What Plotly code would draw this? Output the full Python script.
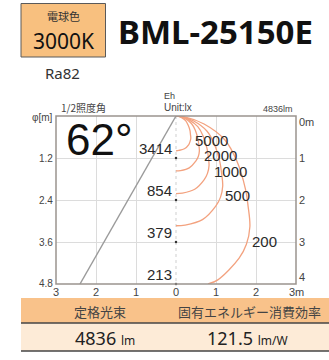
import plotly.graph_objects as go

# ---- data -------------------------------------------------------------
model_name = "BML-25150E"
color_name = "電球色"
color_temp = "3000K"
cri_text = "Ra82"
beam_angle = 62            # 1/2 illuminance angle [deg]
lumen = 4836               # rated flux [lm]
efficacy = 121.5           # [lm/W]

# illuminance directly below the fixture
center_depth = [1, 2, 3, 4]          # [m]
center_lux = [3414, 854, 379, 213]   # [lx]

# edge of the 1/2 illuminance cone (offset, depth) [m]
beam_r = [0, -2.40]
beam_d = [0, 4.0]

# isolux contours: horizontal offset r [m] and depth d [m]
lux_levels = [5000, 2000, 1000, 500, 200]
r_5000 = [0, 0.04, 0.14, 0.24, 0.30, 0.35, 0.36, 0.37, 0.35, 0.32, 0.21, 0.07, 0]
d_5000 = [0, 0.004, 0.04, 0.11, 0.21, 0.35, 0.43, 0.53, 0.61, 0.68, 0.78, 0.82, 0.83]
r_2000 = [0, 0.067, 0.222, 0.386, 0.480, 0.549, 0.570, 0.584, 0.557, 0.499, 0.331, 0.114, 0]
d_2000 = [0, 0.006, 0.060, 0.179, 0.336, 0.549, 0.678, 0.834, 0.966, 1.070, 1.234, 1.299, 1.307]
r_1000 = [0, 0.094, 0.314, 0.545, 0.678, 0.776, 0.806, 0.826, 0.787, 0.706, 0.468, 0.161, 0]
d_1000 = [0, 0.008, 0.085, 0.253, 0.475, 0.776, 0.959, 1.179, 1.366, 1.514, 1.745, 1.837, 1.848]
r_500 = [0, 0.133, 0.444, 0.771, 0.959, 1.097, 1.139, 1.168, 1.113, 0.998, 0.661, 0.227, 0]
d_500 = [0, 0.012, 0.120, 0.358, 0.672, 1.097, 1.356, 1.667, 1.931, 2.140, 2.467, 2.597, 2.613]
r_200 = [0, 0.211, 0.702, 1.219, 1.516, 1.735, 1.802, 1.847, 1.760, 1.578, 1.045, 0.80]
d_200 = [0, 0.019, 0.190, 0.566, 1.062, 1.735, 2.144, 2.636, 3.054, 3.384, 3.901, 4.0]
contour_r = [r_5000, r_2000, r_1000, r_500, r_200]
contour_d = [d_5000, d_2000, d_1000, d_500, d_200]

# axis tick labels
x_ticks = [-3, -2, -1, 0, 1, 2, 3]
x_tick_text = ["3", "2", "1", "0", "1", "2", "3m"]
depth_ticks = [0, 1, 2, 3, 4]
depth_tick_text = ["0m", "1", "2", "3", "4"]
diam_tick_text = ["1.2", "2.4", "3.6", "4.8"]

# ---- layout constants ---------------------------------------------------
FIG_W, FIG_H = 329, 360
L, R, T, B = 56, 33, 116, 76
PW, PH = FIG_W - L - R, FIG_H - T - B

# label anchors (offset, depth) beside each isolux curve
contour_label_pos = [(0.42, 0.59), (0.64, 0.94), (0.89, 1.32), (1.18, 1.89), (1.84, 2.98)]

NUM_FONT = "Liberation Sans"
JP_FONT = "Noto Sans CJK JP"
CURVE_COLOR = "#f3a27f"
TXT = "#2a2a2a"
GRAY_TXT = "#444444"


def px(x):
    return (x - L) / PW


def py(y):
    return (FIG_H - B - y) / PH


fig = go.Figure()

# isolux curves
for lv, rr, dd in zip(lux_levels, contour_r, contour_d):
    fig.add_trace(go.Scatter(
        x=rr, y=dd, mode="lines", name=f"{lv} lx",
        line=dict(color=CURVE_COLOR, width=1.3, shape="spline", smoothing=1.0),
        hoverinfo="skip", showlegend=False))

# beam edge
fig.add_trace(go.Scatter(
    x=beam_r, y=beam_d, mode="lines",
    line=dict(color="#9a9a9a", width=1.4),
    hoverinfo="skip", showlegend=False))

# center-axis markers
fig.add_trace(go.Scatter(
    x=[0] * len(center_depth), y=center_depth, mode="markers",
    marker=dict(color="#333333", size=2.5),
    hoverinfo="skip", showlegend=False, cliponaxis=False))

annotations = []

# center illuminance values
for d, lx in zip(center_depth, center_lux):
    annotations.append(dict(
        x=0, y=d, xref="x", yref="y", text=str(lx), showarrow=False,
        xanchor="right", yanchor="bottom", xshift=-2, yshift=-1,
        font=dict(family=NUM_FONT, size=15, color=TXT)))

# contour labels
for lv, (cx, cy) in zip(lux_levels, contour_label_pos):
    annotations.append(dict(
        x=cx, y=cy, xref="x", yref="y", text=str(lv), showarrow=False,
        xanchor="left", yanchor="middle",
        font=dict(family=NUM_FONT, size=15, color=TXT)))

# bottom axis tick labels
for xv, tx in zip(x_ticks, x_tick_text):
    annotations.append(dict(
        x=xv, y=0, xref="x", yref="paper", text=tx, showarrow=False,
        xanchor="center", yanchor="top", yshift=0,
        font=dict(family=NUM_FONT, size=11, color=GRAY_TXT)))

# right axis (depth) tick labels
for dv, tx in zip(depth_ticks, depth_tick_text):
    shift = -6 if dv == 0 else (7 if dv == depth_ticks[-1] else 0)
    annotations.append(dict(
        x=1, y=dv, xref="paper", yref="y", text=tx, showarrow=False,
        xanchor="left", yanchor="middle", xshift=1, yshift=shift,
        font=dict(family=NUM_FONT, size=11, color=GRAY_TXT)))

# left axis (beam diameter) tick labels
for dv, tx in zip(depth_ticks[1:], diam_tick_text):
    annotations.append(dict(
        x=0, y=dv, xref="paper", yref="y", text=tx, showarrow=False,
        xanchor="right", yanchor="middle", xshift=-1, yshift=1 if dv == 4 else 0,
        font=dict(family=NUM_FONT, size=10, color=GRAY_TXT)))

annotations.append(dict(
    x=px(55), y=py(117), xref="paper", yref="paper", text="φ[m]", showarrow=False,
    xanchor="right", yanchor="middle",
    font=dict(family=NUM_FONT, size=10, color=GRAY_TXT)))

# in-plot headers
annotations += [
    dict(x=px(59), y=py(107), xref="paper", yref="paper", text="1/2照度角",
         showarrow=False, xanchor="left", yanchor="middle",
         font=dict(family=JP_FONT, size=10, color=GRAY_TXT)),
    dict(x=px(64), y=py(139), xref="paper", yref="paper", text=f"{beam_angle}°",
         showarrow=False, xanchor="left", yanchor="middle",
         font=dict(family=NUM_FONT, size=44, color="#111111")),
    dict(x=px(162), y=py(96), xref="paper", yref="paper", text="Eh",
         showarrow=False, xanchor="left", yanchor="middle",
         font=dict(family=NUM_FONT, size=9, color=GRAY_TXT)),
    dict(x=px(162), y=py(108), xref="paper", yref="paper", text="Unit:lx",
         showarrow=False, xanchor="left", yanchor="middle",
         font=dict(family=NUM_FONT, size=10, color=GRAY_TXT)),
    dict(x=px(295), y=py(109), xref="paper", yref="paper", text=f"{lumen}lm",
         showarrow=False, xanchor="right", yanchor="middle",
         font=dict(family=NUM_FONT, size=9, color=GRAY_TXT)),
]

# title block
annotations += [
    dict(x=px(63), y=py(16), xref="paper", yref="paper", text=color_name,
         showarrow=False, xanchor="center", yanchor="middle",
         font=dict(family=JP_FONT, size=11, color="#333333")),
    dict(x=px(63), y=py(41), xref="paper", yref="paper", text=color_temp,
         showarrow=False, xanchor="center", yanchor="middle",
         font=dict(family="Noto Sans", size=21, color="#111111")),
    dict(x=px(62), y=py(73), xref="paper", yref="paper", text=cri_text,
         showarrow=False, xanchor="center", yanchor="middle",
         font=dict(family="Noto Sans", size=15, color="#333333")),
    dict(x=px(116), y=py(31), xref="paper", yref="paper", text=f"<b>{model_name}</b>",
         showarrow=False, xanchor="left", yanchor="middle",
         font=dict(family="Noto Sans", size=33, color="#111111")),
]

# spec table
annotations += [
    dict(x=px(100), y=py(311), xref="paper", yref="paper", text="定格光束",
         showarrow=False, xanchor="center", yanchor="middle",
         font=dict(family=JP_FONT, size=13, color="#444444")),
    dict(x=px(249), y=py(311), xref="paper", yref="paper", text="固有エネルギー消費効率",
         showarrow=False, xanchor="center", yanchor="middle",
         font=dict(family=JP_FONT, size=13, color="#444444")),
    dict(x=px(105), y=py(338), xref="paper", yref="paper",
         text=f"{lumen} <span style='font-size:12px'>lm</span>",
         showarrow=False, xanchor="center", yanchor="middle",
         font=dict(family="Noto Sans", size=18, color="#222222")),
    dict(x=px(247), y=py(338), xref="paper", yref="paper",
         text=f"{efficacy} <span style='font-size:12px'>lm/W</span>",
         showarrow=False, xanchor="center", yanchor="middle",
         font=dict(family="Noto Sans", size=18, color="#222222")),
]

shapes = [
    # dotted center axis
    dict(type="line", xref="x", yref="y", x0=0, x1=0, y0=0, y1=4,
         line=dict(color="#cfcfcf", width=1, dash="dot"), layer="below"),
    # plot frame
    dict(type="rect", xref="paper", yref="paper", x0=0, x1=1, y0=0, y1=1,
         line=dict(color="#9b948f", width=1.5)),
    # title color box
    dict(type="rect", xref="paper", yref="paper", x0=px(21), x1=px(105.5),
         y0=py(57), y1=py(3.5), fillcolor="#f8c07f",
         line=dict(color="#5a5a5a", width=1)),
    # table rows
    dict(type="rect", xref="paper", yref="paper", x0=px(21), x1=px(329),
         y0=py(323), y1=py(298), fillcolor="#f9c28a", line=dict(width=0)),
    dict(type="rect", xref="paper", yref="paper", x0=px(21), x1=px(329),
         y0=py(351), y1=py(323), fillcolor="#fdebd7", line=dict(width=0)),
    dict(type="line", xref="paper", yref="paper", x0=px(21), x1=px(329),
         y0=py(323), y1=py(323), line=dict(color="#444444", width=1.5)),
    dict(type="line", xref="paper", yref="paper", x0=px(21), x1=px(329),
         y0=py(351), y1=py(351), line=dict(color="#444444", width=1.5)),
]

fig.update_layout(
    width=FIG_W, height=FIG_H,
    margin=dict(l=L, r=R, t=T, b=B, pad=0),
    paper_bgcolor="white", plot_bgcolor="white",
    showlegend=False,
    annotations=annotations,
    shapes=shapes,
    xaxis=dict(range=[-3, 3], tickvals=[-2, -1, 1, 2], showticklabels=False,
               showgrid=True, gridcolor="#dcdcdc", gridwidth=1,
               zeroline=False, showline=False, fixedrange=True),
    yaxis=dict(range=[4, 0], tickvals=[1, 2, 3], showticklabels=False,
               showgrid=True, gridcolor="#dcdcdc", gridwidth=1,
               zeroline=False, showline=False, fixedrange=True),
)

fig.write_html("out.html")
